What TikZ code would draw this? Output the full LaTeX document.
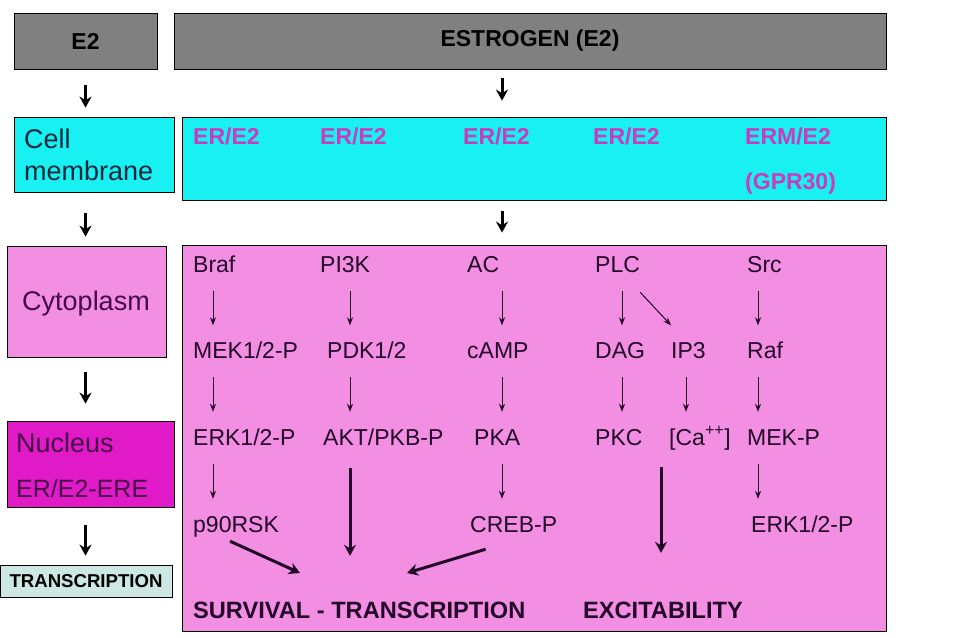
\documentclass[tikz,border=0pt]{standalone}
\usepackage{fontspec}
\setmainfont{Liberation Sans}
\usetikzlibrary{arrows.meta}
\definecolor{hdrgray}{RGB}{128,128,128}
\definecolor{memcyan}{RGB}{24,240,242}
\definecolor{cytopink}{RGB}{242,143,226}
\definecolor{nucmag}{RGB}{225,26,200}
\definecolor{trgreen}{RGB}{205,232,226}
\definecolor{ertext}{RGB}{200,60,190}
\definecolor{pathtext}{RGB}{35,5,40}
\definecolor{memtext}{RGB}{15,40,60}
\definecolor{nuctext}{RGB}{70,10,70}

\begin{document}
\begin{tikzpicture}[x=1pt,y=-1pt,
  box/.style={draw=black,line width=0.8pt,rectangle,inner sep=0pt},
  hdr/.style={box,fill=hdrgray,font=\bfseries\fontsize{23}{27}\selectfont},
  lbl/.style={anchor=base west,inner sep=0pt,text height=16pt,text depth=5pt,
    text=pathtext,font=\fontsize{23}{27}\selectfont},
  erlbl/.style={anchor=base west,inner sep=0pt,text=ertext,font=\bfseries\fontsize{23}{27}\selectfont},
  endlbl/.style={lbl,font=\bfseries\fontsize{23.6}{27}\selectfont},
  thinarr/.style={draw=pathtext,line width=1pt,-{Stealth[length=\ls, width=\ws]},
    shorten <=13.5pt,shorten >=17pt},
  thickarr/.style={draw=pathtext,line width=3pt,-{Stealth[length=\l, width=\w]}},
  sidearr/.style={draw=black,line width=3pt,-{Stealth[length=\l, width=\w]}}]
\def\l{11pt}
\def\w{12pt}
\def\ls{8pt}
\def\ws{6pt}
\useasboundingbox (0,0) rectangle (958,637);
% left column
\node [hdr,minimum width=143pt,minimum height=56pt,name=e2] at (85.5,41) {E2};
\node [box,fill=memcyan,minimum width=160pt,minimum height=75pt,name=cellm] at (94,154.5) {};
\node [anchor=base west,inner sep=0pt,text=memtext,font=\fontsize{27}{32}\selectfont,name=cell] at (24,148) {Cell};
\node [anchor=base west,inner sep=0pt,text=memtext,font=\fontsize{27}{32}\selectfont,name=memb] at (24,180) {membrane};
\node [box,fill=cytopink,minimum width=159pt,minimum height=111pt,name=cyto] at (86.5,301.5) {};
\node [anchor=base,inner sep=0pt,text=nuctext,font=\fontsize{27}{32}\selectfont,name=cytol] at (86,310) {Cytoplasm};
\node [box,fill=nucmag,minimum width=167pt,minimum height=86pt,name=nuc] at (90.5,464) {};
\node [anchor=base west,inner sep=0pt,text=nuctext,font=\fontsize{27}{32}\selectfont,name=nucl] at (16,452) {Nucleus};
\node [anchor=base west,inner sep=0pt,text=nuctext,font=\fontsize{25}{30}\selectfont,name=ere] at (16,497) {ER/E2-ERE};
\node [box,fill=trgreen,minimum width=172pt,minimum height=32pt,
  font=\bfseries\fontsize{18.6}{22}\selectfont,name=trans] at (86,581) {TRANSCRIPTION};
\draw [sidearr,shorten <=16pt,shorten >=9pt] (e2) -- (e2 |- cellm.north);
\draw [sidearr,shorten <=21pt,shorten >=9pt] (e2 |- cellm.south) -- (e2 |- cyto.north);
\draw [sidearr,shorten <=15pt,shorten >=17pt] (e2 |- cyto.south) -- (e2 |- nuc.north);
\draw [sidearr,shorten <=18pt,shorten >=9pt] (e2 |- nuc.south) -- (e2 |- trans.north);
% right column
\node [hdr,minimum width=712pt,minimum height=56pt,name=estr] at (530,41) {ESTROGEN (E2)};
\node [box,fill=memcyan,minimum width=704pt,minimum height=83pt,name=recb] at (534,158.5) {};
\node [box,fill=cytopink,minimum width=704pt,minimum height=386pt,name=pathb] at (534,438) {};
\coordinate (mid) at (502,0);
\draw [sidearr,shorten <=9pt,shorten >=16pt] (estr.south -| mid) -- (recb.north -| mid);
\draw [sidearr,shorten <=11pt,shorten >=12pt] (recb.south -| mid) -- (pathb.north -| mid);
\node [erlbl,name=r1] at (193,144) {ER/E2};
\node [erlbl,name=r2] at (320,144) {ER/E2};
\node [erlbl,name=r3] at (463,144) {ER/E2};
\node [erlbl,name=r4] at (593,144) {ER/E2};
\node [erlbl,name=r5] at (745,144) {ERM/E2};
\node [erlbl,name=gpr] at (745,189) {(GPR30)};
% pathways
\node [lbl,name=braf] at (193,272) {Braf};
\node [lbl,name=pi3k] at (320,272) {PI3K};
\node [lbl,name=ac]   at (467,272) {AC};
\node [lbl,name=plc]  at (595,272) {PLC};
\node [lbl,name=src]  at (747,272) {Src};
\node [lbl,name=mek]  at (193,358.5) {MEK1/2-P};
\node [lbl,name=pdk]  at (327,358.5) {PDK1/2};
\node [lbl,name=camp] at (467,358.5) {cAMP};
\node [lbl,name=dag]  at (595,358.5) {DAG};
\node [lbl,name=ip3]  at (671,358.5) {IP3};
\node [lbl,name=raf]  at (747,358.5) {Raf};
\node [lbl,name=erk]  at (193,445) {ERK1/2-P};
\node [lbl,name=akt]  at (323,445) {AKT/PKB-P};
\node [lbl,name=pka]  at (474,445) {PKA};
\node [lbl,name=pkc]  at (595,445) {PKC};
\node [lbl,name=ca]   at (669,445) {[Ca\textsuperscript{++}]};
\node [lbl,name=mekp] at (747,445) {MEK-P};
\node [lbl,name=p90]  at (193,532) {p90RSK};
\node [lbl,name=creb] at (470,532) {CREB-P};
\node [lbl,name=erkb] at (751,532) {ERK1/2-P};
\node [endlbl,name=surv] at (193,618) {SURVIVAL - TRANSCRIPTION};
\node [endlbl,name=exc]  at (583,618) {EXCITABILITY};
\coordinate (x1) at (213,0);
\coordinate (x2) at (350,0);
\coordinate (x3) at (502,0);
\coordinate (x4) at (622,0);
\coordinate (x5) at (686,0);
\coordinate (x6) at (758,0);
\coordinate (x7) at (661,0);
\draw [thinarr] (braf.south -| x1) -- (mek.north -| x1);
\draw [thinarr] (mek.south -| x1) -- (erk.north -| x1);
\draw [thinarr] (erk.south -| x1) -- (p90.north -| x1);
\draw [thinarr] (pi3k.south -| x2) -- (pdk.north -| x2);
\draw [thinarr] (pdk.south -| x2) -- (akt.north -| x2);
\draw [thinarr] (ac.south -| x3) -- (camp.north -| x3);
\draw [thinarr] (camp.south -| x3) -- (pka.north -| x3);
\draw [thinarr] (pka.south -| x3) -- (creb.north -| x3);
\draw [thinarr] (plc.south -| x4) -- (dag.north -| x4);
\draw [thinarr] (dag.south -| x4) -- (pkc.north -| x4);
\draw [thinarr,shorten <=0pt,shorten >=0pt] ([yshift=-15pt]plc.south east) -- ([yshift=17pt]ip3.north west);
\draw [thinarr] (ip3.south -| x5) -- (ca.north -| x5);
\draw [thinarr] (src.south -| x6) -- (raf.north -| x6);
\draw [thinarr] (raf.south -| x6) -- (mekp.north -| x6);
\draw [thinarr] (mekp.south -| x6) -- (erkb.north -| x6);
% into the outcomes
\coordinate (sv1) at (300,573);
\coordinate (sv2) at (407,573);
\draw [thickarr] ([xshift=-6pt,yshift=-4pt]p90.south) -- (sv1);
\draw [thickarr,shorten <=18pt,shorten >=46pt] (akt.south -| x2) -- (surv.north -| x2);
\draw [thickarr] ([xshift=-28pt,yshift=-12pt]creb.south) -- (sv2);
\draw [thickarr,shorten <=17pt,shorten >=49pt] (pkc.south -| x7) -- (exc.north -| x7);
\end{tikzpicture}
\end{document}
